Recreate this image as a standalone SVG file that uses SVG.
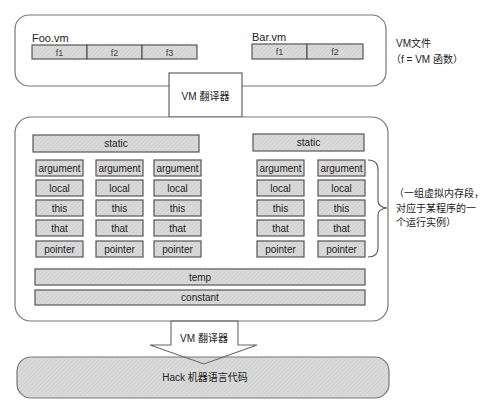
<svg xmlns="http://www.w3.org/2000/svg" width="500" height="415" viewBox="0 0 500 415">
<defs>
<pattern id="hatch" width="3" height="3" patternUnits="userSpaceOnUse" patternTransform="rotate(45)">
<rect width="3" height="3" fill="#dadada"/>
<line x1="0" y1="0" x2="0" y2="3" stroke="#c6c6c6" stroke-width="1"/>
</pattern>
</defs>
<style>
text{font-family:"Liberation Sans","Noto Sans CJK SC",sans-serif;fill:#222;}
.cont{fill:#fff;stroke:#777;stroke-width:1.2;}
.cell{fill:url(#hatch);stroke:#555;stroke-width:1.2;}
.c{font-size:10px;text-anchor:middle;}
.f{font-size:9px;text-anchor:middle;fill:#444;}
.lbl{font-size:11px;}
.cn{font-size:10px;}
.line{fill:none;stroke:#555;stroke-width:1.1;}
</style>
<rect width="500" height="415" fill="#fff"/>

<g id="vm-files">
<rect class="cont" x="15" y="15" width="371" height="71" rx="14"/>
<g id="foo">
<text class="lbl" x="32" y="42">Foo.vm</text>
<rect class="cell" x="32" y="45" width="55" height="14"/>
<rect class="cell" x="87" y="45" width="55" height="14"/>
<rect class="cell" x="142" y="45" width="55" height="14"/>
<text class="f" x="59.5" y="56">f1</text>
<text class="f" x="114.5" y="56">f2</text>
<text class="f" x="169.5" y="56">f3</text>
</g>
<g id="bar">
<text class="lbl" x="252" y="41">Bar.vm</text>
<rect class="cell" x="252" y="44" width="55" height="15"/>
<rect class="cell" x="307" y="44" width="56" height="15"/>
<text class="f" x="279.5" y="55">f1</text>
<text class="f" x="335" y="55">f2</text>
</g>
</g>
<g id="vm-files-note">
<text class="cn" x="396" y="47">VM文件</text>
<text class="cn" x="391" y="63">（f = VM 函数）</text>
</g>

<g id="translator-top">
<rect x="169" y="73" width="73" height="44" fill="#fff" stroke="#555" stroke-width="1.1"/>
<text class="cn" x="205.5" y="100" text-anchor="middle">VM 翻译器</text>
</g>

<g id="memory">
<rect class="cont" x="15" y="117" width="373" height="204" rx="16"/>
<g id="static-foo"><rect class="cell" x="33" y="135" width="166" height="17"/><text class="c" x="116" y="147">static</text></g>
<g id="static-bar"><rect class="cell" x="253" y="134" width="111" height="17"/><text class="c" x="308.5" y="146">static</text></g>
<g id="frames">
<g id="col1">
<rect class="cell" x="36" y="160" width="47" height="16"/><text class="c" x="59.5" y="172">argument</text>
<rect class="cell" x="36" y="180" width="47" height="16"/><text class="c" x="59.5" y="192">local</text>
<rect class="cell" x="36" y="200" width="47" height="16"/><text class="c" x="59.5" y="212">this</text>
<rect class="cell" x="36" y="220" width="47" height="16"/><text class="c" x="59.5" y="232">that</text>
<rect class="cell" x="36" y="241" width="47" height="16"/><text class="c" x="59.5" y="253">pointer</text>
</g>
<g id="col2">
<rect class="cell" x="96" y="160" width="47" height="16"/><text class="c" x="119.5" y="172">argument</text>
<rect class="cell" x="96" y="180" width="47" height="16"/><text class="c" x="119.5" y="192">local</text>
<rect class="cell" x="96" y="200" width="47" height="16"/><text class="c" x="119.5" y="212">this</text>
<rect class="cell" x="96" y="220" width="47" height="16"/><text class="c" x="119.5" y="232">that</text>
<rect class="cell" x="96" y="241" width="47" height="16"/><text class="c" x="119.5" y="253">pointer</text>
</g>
<g id="col3">
<rect class="cell" x="154" y="160" width="47" height="16"/><text class="c" x="177.5" y="172">argument</text>
<rect class="cell" x="154" y="180" width="47" height="16"/><text class="c" x="177.5" y="192">local</text>
<rect class="cell" x="154" y="200" width="47" height="16"/><text class="c" x="177.5" y="212">this</text>
<rect class="cell" x="154" y="220" width="47" height="16"/><text class="c" x="177.5" y="232">that</text>
<rect class="cell" x="154" y="241" width="47" height="16"/><text class="c" x="177.5" y="253">pointer</text>
</g>
<g id="col4">
<rect class="cell" x="257" y="160" width="47" height="16"/><text class="c" x="280.5" y="172">argument</text>
<rect class="cell" x="257" y="180" width="47" height="16"/><text class="c" x="280.5" y="192">local</text>
<rect class="cell" x="257" y="200" width="47" height="16"/><text class="c" x="280.5" y="212">this</text>
<rect class="cell" x="257" y="220" width="47" height="16"/><text class="c" x="280.5" y="232">that</text>
<rect class="cell" x="257" y="241" width="47" height="16"/><text class="c" x="280.5" y="253">pointer</text>
</g>
<g id="col5">
<rect class="cell" x="318" y="160" width="47" height="16"/><text class="c" x="341.5" y="172">argument</text>
<rect class="cell" x="318" y="180" width="47" height="16"/><text class="c" x="341.5" y="192">local</text>
<rect class="cell" x="318" y="200" width="47" height="16"/><text class="c" x="341.5" y="212">this</text>
<rect class="cell" x="318" y="220" width="47" height="16"/><text class="c" x="341.5" y="232">that</text>
<rect class="cell" x="318" y="241" width="47" height="16"/><text class="c" x="341.5" y="253">pointer</text>
</g>
</g>
<g id="temp"><rect class="cell" x="35" y="269" width="330" height="16"/><text class="c" x="200" y="281">temp</text></g>
<g id="constant"><rect class="cell" x="35" y="290" width="330" height="15"/><text class="c" x="200" y="301">constant</text></g>
</g>

<g id="frame-note">
<text class="cn" x="394" y="197">（一组虚拟内存段，</text>
<text class="cn" x="396" y="212">对应于某程序的一</text>
<text class="cn" x="396" y="226">个运行实例）</text>
</g>

<g id="hack">
<rect x="17" y="357" width="372" height="41" rx="14" fill="url(#hatch)" stroke="#777" stroke-width="1.2"/>
<text class="cn" x="205" y="381" text-anchor="middle" font-size="11">Hack 机器语言代码</text>
</g>

<g id="connectors">
<path class="line" d="M368,160 Q378,160 378,170 L378,201 Q378,207 387,208 Q378,209 378,215 L378,248 Q378,257 368,257"/>
<polygon points="171,321 238,321 238,345 257,345 204,364 150,345 171,345" fill="none" stroke="#666" stroke-width="1.1"/>
<text class="cn" x="204" y="342" text-anchor="middle">VM 翻译器</text>
</g>
</svg>
